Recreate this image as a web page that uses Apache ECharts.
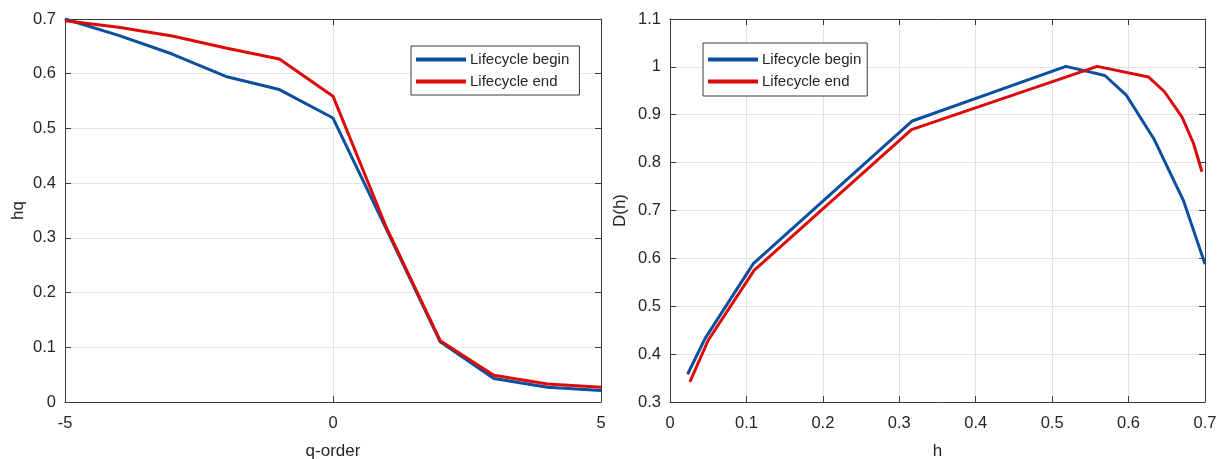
<!DOCTYPE html>
<html>
<head>
<meta charset="utf-8">
<script src="https://cdn.jsdelivr.net/npm/echarts@6/dist/echarts.min.js"></script>
<style>
html,body{margin:0;padding:0;background:#fff;}
#main{width:1224px;height:459px;}
</style>
</head>
<body>
<div id="main"></div>
<script>
// ---- data ----
const qOrder = [-5, -4, -3, -2, -1, 0, 1, 2, 3, 4, 5];
const hqBegin = [0.700, 0.670, 0.636, 0.595, 0.571, 0.519, 0.315, 0.110, 0.043, 0.027, 0.021];
const hqEnd   = [0.697, 0.685, 0.669, 0.647, 0.627, 0.559, 0.318, 0.112, 0.049, 0.033, 0.027];

const hBegin = [0.023, 0.046, 0.109, 0.317, 0.518, 0.569, 0.597, 0.633, 0.672, 0.700];
const dBegin = [0.358, 0.433, 0.589, 0.887, 1.001, 0.982, 0.941, 0.850, 0.720, 0.588];
const hEnd   = [0.026, 0.050, 0.110, 0.316, 0.559, 0.626, 0.647, 0.670, 0.685, 0.696];
const dEnd   = [0.342, 0.429, 0.575, 0.869, 1.001, 0.979, 0.948, 0.895, 0.840, 0.781];

const seriesNames = ['Lifecycle begin', 'Lifecycle end'];
const leftXLabel = 'q-order', leftYLabel = 'hq';
const rightXLabel = 'h', rightYLabel = 'D(h)';

// ---- styling ----
const FONT = '"Liberation Sans", Arial, sans-serif';
const TXT = '#262626';
const AX = '#3a3a3a';
const GRIDC = '#e3e3e3';
const BLUE = '#0b4f9f';
const RED = '#dd0a0a';

function pairs(xs, ys) { return xs.map((x, i) => [x, ys[i]]); }

function mainX(gi, min, max, interval, name) {
  return {
    type: 'value', gridIndex: gi, min, max, interval, position: 'bottom',
    name, nameLocation: 'middle', nameGap: 41,
    nameTextStyle: { fontFamily: FONT, fontSize: 17, color: TXT },
    axisLine: { show: true, onZero: false, lineStyle: { color: AX, width: 1 } },
    axisTick: { show: true, inside: true, length: 6, lineStyle: { color: AX } },
    axisLabel: { fontFamily: FONT, fontSize: 16.5, color: TXT, margin: 13 },
    splitLine: { show: true, lineStyle: { color: GRIDC, width: 1 } }
  };
}
function topX(gi, min, max, interval) {
  return {
    type: 'value', gridIndex: gi, min, max, interval, position: 'top',
    axisLine: { show: true, onZero: false, lineStyle: { color: AX, width: 1 } },
    axisTick: { show: true, inside: true, length: 6, lineStyle: { color: AX } },
    axisLabel: { show: false }, splitLine: { show: false }
  };
}
function mainY(gi, min, max, interval, name, gap) {
  return {
    type: 'value', gridIndex: gi, min, max, interval, position: 'left',
    name, nameLocation: 'middle', nameGap: gap,
    nameTextStyle: { fontFamily: FONT, fontSize: 17, color: TXT },
    axisLine: { show: true, onZero: false, lineStyle: { color: AX, width: 1 } },
    axisTick: { show: true, inside: true, length: 6, lineStyle: { color: AX } },
    axisLabel: { fontFamily: FONT, fontSize: 16.5, color: TXT, margin: 9 },
    splitLine: { show: true, lineStyle: { color: GRIDC, width: 1 } }
  };
}
function rightY(gi, min, max, interval) {
  return {
    type: 'value', gridIndex: gi, min, max, interval, position: 'right',
    axisLine: { show: true, onZero: false, lineStyle: { color: AX, width: 1 } },
    axisTick: { show: true, inside: true, length: 6, lineStyle: { color: AX } },
    axisLabel: { show: false }, splitLine: { show: false }
  };
}
function legend(left, top, names, padding) {
  return {
    left, top, orient: 'vertical', data: names,
    icon: 'rect', itemWidth: 50, itemHeight: 4, itemGap: 7,
    padding,
    borderColor: AX, borderWidth: 1, backgroundColor: '#fff',
    textStyle: { fontFamily: FONT, fontSize: 15, color: TXT, padding: [0, 0, 0, -1] }
  };
}
function line(name, xi, yi, data, color) {
  return {
    type: 'line', name, xAxisIndex: xi, yAxisIndex: yi, data,
    symbol: 'none', smooth: false, animation: false, clip: true,
    lineStyle: { color, width: 3 }, itemStyle: { color }
  };
}

const chart = echarts.init(document.getElementById('main'), null, { renderer: 'canvas' });
chart.setOption({
  backgroundColor: '#fff',
  animation: false,
  grid: [
    { left: 65, right: 623, top: 19, bottom: 57, containLabel: false, outerBoundsMode: 'none' },
    { left: 670, right: 19, top: 19, bottom: 57, containLabel: false, outerBoundsMode: 'none' }
  ],
  xAxis: [
    mainX(0, -5, 5, 5, leftXLabel), topX(0, -5, 5, 5),
    mainX(1, 0, 0.7, 0.1, rightXLabel), topX(1, 0, 0.7, 0.1)
  ],
  yAxis: [
    mainY(0, 0, 0.7, 0.1, leftYLabel, 38), rightY(0, 0, 0.7, 0.1),
    mainY(1, 0.3, 1.1, 0.1, rightYLabel, 41), rightY(1, 0.3, 1.1, 0.1)
  ],
  legend: [
    legend(411, 46, [seriesNames[0] + ' ', seriesNames[1] + ' '], [6, 6, 6, 5]),
    legend(703, 43, seriesNames, [9, 6, 7, 5])
  ],
  series: [
    line(seriesNames[0] + ' ', 0, 0, pairs(qOrder, hqBegin), BLUE),
    line(seriesNames[1] + ' ', 0, 0, pairs(qOrder, hqEnd), RED),
    line(seriesNames[0], 2, 2, pairs(hBegin, dBegin), BLUE),
    line(seriesNames[1], 2, 2, pairs(hEnd, dEnd), RED)
  ]
});
</script>
</body>
</html>
